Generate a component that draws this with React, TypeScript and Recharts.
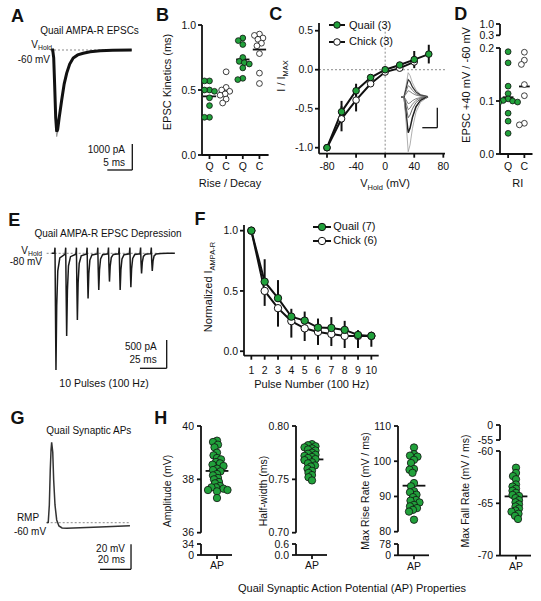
import React from 'react';
import {
  ComposedChart,
  LineChart,
  ScatterChart,
  Line,
  Scatter,
  XAxis,
  YAxis,
  ReferenceLine,
  ErrorBar,
} from 'recharts';

const GREEN = '#21a13b';
const INK = '#111111';
const DASH = '#8a8a8a';
const FONT = '"Liberation Sans", Arial, Helvetica, sans-serif';

// A: quail AMPA-R EPSC (time ms, current pA)
const A_T = [-0.3, 0, 0.2, 0.4, 0.6, 0.8, 1.0, 1.3, 1.8, 2.3, 2.8, 3.4, 4.1, 5.0, 6.1, 7.5, 9.5, 12, 15.8];
const A_MEAN = [0, 0, -300, -1400, -2600, -3140, -3050, -2600, -1920, -1300, -890, -540, -310, -190, -125, -70, -27, -8, 0];
const A_SWEEP = [0, 0, -350, -1600, -2900, -3330, -3150, -2650, -1950, -1320, -900, -545, -312, -190, -125, -70, -27, -8, 0];

// B: EPSC kinetics (ms)
const B_CATS = ['Q', 'C', 'Q', 'C'];
const B_RISE_QUAIL = [0.57, 0.57, 0.5, 0.5, 0.49, 0.48, 0.44, 0.38, 0.29, 0.29];
const B_RISE_CHICK = [0.64, 0.52, 0.5, 0.49, 0.47, 0.46, 0.43, 0.4];
const B_DECAY_QUAIL = [0.9, 0.88, 0.85, 0.75, 0.72, 0.71, 0.7, 0.67, 0.59, 0.58];
const B_DECAY_CHICK = [0.93, 0.92, 0.9, 0.89, 0.86, 0.84, 0.78, 0.63, 0.55];

// C: I-V relation
const C_VHOLD = [-80, -60, -40, -20, 0, 20, 40, 60];
const C_QUAIL = [-1.0, -0.54, -0.27, -0.1, 0.0, 0.06, 0.13, 0.2];
const C_QUAIL_ERR = [0, 0.14, 0.09, 0.03, 0.02, 0.02, 0.11, 0.12];
const C_CHICK = [-1.0, -0.63, -0.39, -0.18, -0.03, 0.02, 0.1];
const C_CHICK_ERR = [0, 0.16, 0.145, 0.03, 0.02, 0.02, 0.05];

// C inset: current family (ms, pA)
const INSET_T = [0, 1, 1.6, 2.4, 3, 3.8, 5, 6.5, 9];
const INSET_1 = [0, 0, 240, 600, 530, 350, 170, 60, 0];
const INSET_2 = [0, 0, 170, 425, 375, 245, 120, 40, 0];
const INSET_3 = [0, 0, 110, 275, 240, 160, 75, 25, 0];
const INSET_4 = [0, 0, 60, 150, 130, 85, 40, 15, 0];
const INSET_5 = [0, 0, -70, -175, -155, -100, -50, -20, 0];
const INSET_6 = [0, 0, -130, -325, -285, -190, -90, -35, 0];
const INSET_7 = [0, 0, -210, -525, -460, -305, -145, -55, 0];
const INSET_8 = [0, 0, -360, -900, -790, -520, -250, -90, 0];
const INSET_9 = [0, 0, -550, -1375, -1210, -800, -385, -140, 0];

// D: rectification index
const D_CATS = ['Q', 'C'];
const D_QUAIL = [0.193, 0.172, 0.128, 0.114, 0.104, 0.101, 0.1, 0.098, 0.097, 0.077, 0.062, 0.039];
const D_CHICK = [0.192, 0.177, 0.169, 0.131, 0.11, 0.058, 0.055];

// E: EPSC train at 100 Hz (ms, pA)
const E_T = [
  -3, -0.5, 0, 0.4, 0.9, 1.6, 2.6, 4.5,
  9.5, 10, 10.4, 10.9, 11.6, 12.6, 14.5,
  19.5, 20, 20.4, 20.9, 21.6, 22.6, 24.5,
  29.5, 30, 30.4, 30.9, 31.6, 32.6, 34.5,
  39.5, 40, 40.4, 40.9, 41.6, 42.6, 44.5,
  49.5, 50, 50.4, 50.9, 51.6, 52.6, 54.5,
  59.5, 60, 60.4, 60.9, 61.6, 62.6, 64.5,
  69.5, 70, 70.4, 70.9, 71.6, 72.6, 74.5,
  79.5, 80, 80.4, 80.9, 81.6, 82.6, 84.5,
  89.5, 90, 90.4, 90.9, 91.6, 92.6, 94.5,
  99, 105, 112,
];
const E_I = [
  0, 0, 100, -930, -2060, -930, -310, -80,
  -15, 100, -660, -1460, -660, -220, -60,
  -15, 100, -530, -1180, -530, -180, -45,
  -10, 100, -360, -800, -360, -120, -30,
  -10, 100, -290, -650, -290, -100, -25,
  -8, 100, -225, -500, -225, -75, -20,
  -8, 100, -290, -650, -290, -100, -25,
  -8, 100, -270, -600, -270, -90, -22,
  -8, 100, -160, -355, -160, -55, -15,
  -6, 100, -140, -310, -140, -45, -12,
  -5, 0, 0,
];

// F: normalized depression
const F_PULSE = [1, 2, 3, 4, 5, 6, 7, 8, 9, 10];
const F_QUAIL = [1.0, 0.577, 0.44, 0.287, 0.254, 0.196, 0.193, 0.177, 0.135, 0.127];
const F_QUAIL_ERR = [0, 0.186, 0.15, 0.065, 0.075, 0.075, 0.09, 0.075, 0.04, 0.035];
const F_CHICK = [1.0, 0.5, 0.357, 0.25, 0.19, 0.16, 0.143, 0.127, 0.127, 0.127];
const F_CHICK_ERR = [0, 0.124, 0.153, 0.137, 0.105, 0.108, 0.1, 0.1, 0.1, 0.09];

// G: synaptic AP (ms, mV)
const G_T = [0, 1.0, 1.7, 2.3, 2.8, 3.2, 3.9, 4.5, 5.35, 6.45, 7.9, 9.9, 12.9, 21.5, 34.4, 53.7];
const G_V = [-60, -59.7, -45.8, -17.8, -1.8, 4.3, -3.4, -25.8, -45.8, -57.8, -62.6, -64.2, -64.5, -64.0, -63.4, -62.4];

// H: AP properties
const H_AMPLITUDE = [39.45, 39.4, 39.3, 39.2, 39.0, 38.9, 38.8, 38.75, 38.65, 38.6, 38.55, 38.5, 38.4, 38.35, 38.3, 38.2, 38.15, 38.05, 38.0, 37.9, 37.85, 37.75, 37.7, 37.7, 37.65, 37.6, 37.6, 37.55, 37.3];
const H_HALFWIDTH = [0.783, 0.782, 0.781, 0.78, 0.779, 0.778, 0.777, 0.775, 0.774, 0.773, 0.772, 0.771, 0.77, 0.769, 0.768, 0.766, 0.765, 0.763, 0.762, 0.76, 0.758, 0.756, 0.754, 0.752, 0.749];
const H_RISE = [103.9, 102.0, 101.6, 101.3, 100.4, 99.5, 97.8, 97.6, 96.7, 93.8, 92.9, 91.5, 91.2, 90.5, 89.8, 89.0, 88.8, 88.3, 87.6, 87.2, 86.7, 86.2, 85.7, 83.4];
const H_FALL = [-61.6, -62.1, -62.4, -62.7, -63.2, -63.4, -63.6, -63.8, -64.0, -64.2, -64.3, -64.5, -64.7, -64.9, -65.1, -65.3, -65.5, -65.7, -65.8, -66.0, -66.2, -66.5];

type Box = { x0: number; x1: number; y0: number; y1: number };
const PAD = 8;
const MARGIN = { top: PAD, right: PAD, bottom: PAD, left: PAD };

function frame(b: Box, yw = 0, xh = 0) {
  return {
    pos: { position: 'absolute' as const, left: b.x0 - yw - PAD, top: b.y0 - PAD },
    width: b.x1 - b.x0 + yw + 2 * PAD,
    height: b.y1 - b.y0 + xh + 2 * PAD,
  };
}

const AX = {
  axisLine: { stroke: INK, strokeWidth: 1.8 },
  tickLine: { stroke: INK, strokeWidth: 1.8 },
  tick: { fill: INK, fontSize: 10.5 },
  tickSize: 4,
  interval: 0 as const,
  allowDataOverflow: true,
};

const mean = (a: number[]) => a.reduce((s, v) => s + v, 0) / a.length;

// simple beeswarm: spread overlapping points sideways (pixel space)
function swarm(vals: number[], cat: number, pxY: number, pxX: number, r: number, overlap = 0.85) {
  const d = 2 * r * overlap;
  const placed: { x: number; y: number }[] = [];
  const out = vals.map((v) => ({ x: cat, y: v }));
  const order = vals.map((_, i) => i).sort((a, b) => vals[b] - vals[a]);
  for (const i of order) {
    const y = vals[i] * pxY;
    for (let k = 0; k < 400; k++) {
      const x = (k % 2 === 0 ? 1 : -1) * Math.ceil(k / 2) * 0.5;
      if (placed.every((p) => (p.x - x) ** 2 + (p.y - y) ** 2 >= d * d)) {
        placed.push({ x, y });
        out[i] = { x: cat + x / pxX, y: vals[i] };
        break;
      }
    }
  }
  return out;
}

const dot = (fill: string, r: number) => (p: any) => (
  <circle cx={p.cx} cy={p.cy} r={r} fill={fill} stroke={INK} strokeWidth={0.8} />
);
const noDot = () => <g />;

function scaleBar(xEnd: number, yTop: number, xLen: number, yLen: number) {
  return [
    <ReferenceLine key="sv" segment={[{ x: xEnd, y: yTop }, { x: xEnd, y: yTop - yLen }]} stroke={INK} strokeWidth={1.3} />,
    <ReferenceLine key="sh" segment={[{ x: xEnd - xLen, y: yTop - yLen }, { x: xEnd, y: yTop - yLen }]} stroke={INK} strokeWidth={1.3} />,
  ];
}

function Txt({ x, y, size = 11, anchor = 'middle', bold = false, rotate = false, children }: any) {
  const tx = anchor === 'middle' ? '-50%' : anchor === 'end' ? '-100%' : '0';
  return (
    <div
      style={{
        position: 'absolute',
        left: x,
        top: y,
        transform: `translate(${tx}, -50%)${rotate ? ' rotate(-90deg)' : ''}`,
        fontSize: size,
        fontWeight: bold ? 700 : 400,
        lineHeight: 1,
        whiteSpace: 'nowrap',
      }}
    >
      {children}
    </div>
  );
}

const Sub = ({ children }: any) => (
  <span style={{ fontSize: '0.68em', position: 'relative', top: '0.35em' }}>{children}</span>
);

function LegendRow({ x, y, fill, r, w, gap, label }: any) {
  return (
    <div style={{ position: 'absolute', left: x - w / 2, top: y - 7, height: 14, display: 'flex', alignItems: 'center' }}>
      <svg width={w} height={14} style={{ display: 'block' }}>
        <line x1={0} y1={7} x2={w} y2={7} stroke={INK} strokeWidth={2} />
        <circle cx={w / 2} cy={7} r={r} fill={fill} stroke={INK} strokeWidth={1} />
      </svg>
      <span style={{ marginLeft: gap, fontSize: 11, lineHeight: 1 }}>{label}</span>
    </div>
  );
}

export default function App() {
  // A
  const aBox: Box = { x0: 40, x1: 140, y0: 35, y1: 180 };
  const aF = frame(aBox);
  const aRows = A_T.map((t, i) => ({ t, mean: A_MEAN[i], sweep: A_SWEEP[i] }));

  // B
  const bBox: Box = { x0: 201.7, x1: 268.3, y0: 25, y1: 155 };
  const bF = frame(bBox, 34, 22);
  const bGroups = [
    { vals: B_RISE_QUAIL, cat: 0, fill: GREEN },
    { vals: B_RISE_CHICK, cat: 1, fill: '#ffffff' },
    { vals: B_DECAY_QUAIL, cat: 2, fill: GREEN },
    { vals: B_DECAY_CHICK, cat: 3, fill: '#ffffff' },
  ];

  // C
  const cBox: Box = { x0: 319, x1: 445, y0: 23.3, y1: 154 };
  const cF = frame(cBox, 34, 22);
  const cRows = C_VHOLD.map((v, i) => ({
    v,
    q: C_QUAIL[i],
    qe: C_QUAIL_ERR[i],
    c: C_CHICK[i] ?? null,
    ce: C_CHICK_ERR[i] ?? 0,
  }));
  const insBox: Box = { x0: 393, x1: 443, y0: 66, y1: 158 };
  const insF = frame(insBox);
  const insTraces = [INSET_1, INSET_2, INSET_3, INSET_4, INSET_5, INSET_6, INSET_7, INSET_8, INSET_9];
  const insStroke = ['#9a9a9a', '#333', '#666', '#666', '#666', '#666', '#555', '#222', '#9a9a9a'];
  const insWidth = [0.8, 1.2, 0.8, 0.8, 0.8, 0.8, 0.9, 1.5, 0.8];
  const insRows = INSET_T.map((t, i) => {
    const row: Record<string, number> = { t };
    insTraces.forEach((tr, k) => (row['i' + k] = tr[i]));
    return row;
  });

  // D
  const dTopBox: Box = { x0: 499.5, x1: 532, y0: 24, y1: 35.3 };
  const dBox: Box = { x0: 499.5, x1: 532, y0: 48, y1: 154 };
  const dTopF = frame(dTopBox, 34, 0);
  const dF = frame(dBox, 34, 22);
  const dGroups = [
    { vals: D_QUAIL, cat: 0, fill: GREEN },
    { vals: D_CHICK, cat: 1, fill: '#ffffff' },
  ];
  const dPoints = dGroups.map((g) => swarm(g.vals, g.cat, 530, 16.25, 2.9));

  // E
  const eBox: Box = { x0: 40, x1: 180, y0: 240, y1: 375 };
  const eF = frame(eBox);
  const eRows = E_T.map((t, i) => ({ t, i: E_I[i] }));

  // F
  const fBox: Box = { x0: 244, x1: 378.7, y0: 225, y1: 355.7 };
  const fF = frame(fBox, 34, 24);
  const fRows = F_PULSE.map((p, i) => ({
    p,
    q: F_QUAIL[i],
    qe: [0, F_QUAIL_ERR[i]],
    c: F_CHICK[i],
    ce: [F_CHICK_ERR[i], 0],
  }));

  // G
  const gBox: Box = { x0: 40, x1: 140, y0: 425, y1: 580 };
  const gF = frame(gBox);
  const gRows = G_T.map((t, i) => ({ t, v: G_V[i] }));

  // H
  const H_PANELS = [
    { vals: H_AMPLITUDE, x0: 200.7, top: [426, 532.7, 36, 40], topTicks: [36, 38, 40], bot: [544.3, 555.3, 0, 34], botTicks: [0, 34], dTop: 0, dBot: 0, dataTop: true, title: 'Amplitude (mV)', tx: 166.7 },
    { vals: H_HALFWIDTH, x0: 295.7, top: [426, 532.7, 0.7, 0.8], topTicks: [0.7, 0.75, 0.8], bot: [544.3, 555.3, 0, 0.6], botTicks: [0, 0.6], dTop: 2, dBot: 1, dataTop: true, title: 'Half-width (ms)', tx: 263.3 },
    { vals: H_RISE, x0: 398.3, top: [426, 531.7, 80, 110], topTicks: [80, 90, 100, 110], bot: [544, 555.3, 0, 78], botTicks: [0, 78], dTop: 0, dBot: 0, dataTop: true, title: 'Max Rise Rate (mV / ms)', tx: 365 },
    { vals: H_FALL, x0: 500, top: [425, 440, -55, 0], topTicks: [-55, 0], bot: [450.7, 555.3, -70, -60], botTicks: [-70, -65, -60], dTop: 0, dBot: 0, dataTop: false, title: 'Max Fall Rate (mV / ms)', tx: 465 },
  ];
  const H_R = 3.7;
  const H_XDOM = [-0.8, 0.75];

  return (
    <div
      style={{
        position: 'fixed',
        left: 0,
        top: 0,
        width: 541,
        height: 601,
        background: '#ffffff',
        fontFamily: FONT,
        color: INK,
        overflow: 'hidden',
      }}
    >
      {/* A */}
      <div style={aF.pos}>
        <LineChart width={aF.width} height={aF.height} margin={MARGIN} data={aRows}>
          <XAxis type="number" dataKey="t" hide domain={[-2.54, 17.46]} />
          <YAxis type="number" hide domain={[-5000, 576.9]} />
          <ReferenceLine segment={[{ x: -0.54, y: 0 }, { x: 15.8, y: 0 }]} stroke={DASH} strokeDasharray="2 2" />
          <Line dataKey="sweep" stroke="#9a9a9a" strokeWidth={1} dot={false} isAnimationActive={false} />
          <Line dataKey="mean" stroke={INK} strokeWidth={3} dot={false} isAnimationActive={false} />
          {scaleBar(15.92, -3615, 5, 1000)}
        </LineChart>
      </div>

      {/* B */}
      <div style={bF.pos}>
        <ScatterChart width={bF.width} height={bF.height} margin={MARGIN}>
          <XAxis {...AX} type="number" dataKey="x" domain={[-0.45, 3.55]} ticks={[0, 1, 2, 3]} tickFormatter={(v: number) => B_CATS[v]} height={22} tickMargin={4} />
          <YAxis {...AX} type="number" dataKey="y" domain={[0, 1]} ticks={[0, 0.5, 1]} tickFormatter={(v: number) => v.toFixed(1)} width={34} tickMargin={2} />
          {bGroups.map((g, i) => (
            <Scatter key={'b' + i} data={swarm(g.vals, g.cat, 130, 16.65, 2.9)} shape={dot(g.fill, 2.9)} isAnimationActive={false} />
          ))}
          {bGroups.map((g, i) => (
            <ReferenceLine key={'bm' + i} segment={[{ x: g.cat - 0.4, y: mean(g.vals) }, { x: g.cat + 0.4, y: mean(g.vals) }]} stroke={INK} strokeWidth={1.8} />
          ))}
        </ScatterChart>
      </div>

      {/* C */}
      <div style={cF.pos}>
        <ComposedChart width={cF.width} height={cF.height} margin={MARGIN} data={cRows}>
          <XAxis {...AX} type="number" dataKey="v" domain={[-91, 82.3]} ticks={[-80, -40, 0, 40, 80]} height={22} tickMargin={5} />
          <YAxis {...AX} type="number" domain={[-1.077, 0.599]} ticks={[-1, -0.5, 0, 0.5]} tickFormatter={(v: number) => v.toFixed(1)} width={34} tickMargin={2} />
          <ReferenceLine x={0} stroke={DASH} strokeDasharray="2 2" />
          <ReferenceLine y={0} stroke={DASH} strokeDasharray="2 2" />
          <Line dataKey="c" stroke={INK} strokeWidth={2} dot={{ r: 3.3, fill: '#ffffff', stroke: INK, strokeWidth: 1 }} activeDot={false} isAnimationActive={false}>
            <ErrorBar dataKey="ce" direction="y" width={0} stroke={INK} strokeWidth={2} />
          </Line>
          <Line dataKey="q" stroke={INK} strokeWidth={2} dot={{ r: 3.3, fill: GREEN, stroke: INK, strokeWidth: 1 }} activeDot={false} isAnimationActive={false}>
            <ErrorBar dataKey="qe" direction="y" width={0} stroke={INK} strokeWidth={2} />
          </Line>
        </ComposedChart>
      </div>
      <div style={insF.pos}>
        <LineChart width={insF.width} height={insF.height} margin={MARGIN} data={insRows}>
          <XAxis type="number" dataKey="t" hide domain={[-2.667, 14]} />
          <YAxis type="number" hide domain={[-1532.5, 767.5]} />
          {insTraces.map((_, k) => (
            <Line key={'i' + k} dataKey={'i' + k} stroke={insStroke[k]} strokeWidth={insWidth[k]} dot={false} isAnimationActive={false} />
          ))}
          {scaleBar(12.1, -275, 5, 500)}
        </LineChart>
      </div>

      {/* D: upper axis segment (broken axis) */}
      <div style={dTopF.pos}>
        <ScatterChart width={dTopF.width} height={dTopF.height} margin={MARGIN}>
          <XAxis type="number" dataKey="x" hide domain={[-0.5, 1.5]} allowDataOverflow />
          <YAxis {...AX} type="number" dataKey="y" domain={[0.3, 1]} ticks={[0.3, 1]} tickFormatter={(v: number) => v.toFixed(1)} width={34} tickMargin={2} />
          <Scatter data={dPoints[0]} shape={noDot} isAnimationActive={false} />
        </ScatterChart>
      </div>
      <div style={dF.pos}>
        <ScatterChart width={dF.width} height={dF.height} margin={MARGIN}>
          <XAxis {...AX} type="number" dataKey="x" domain={[-0.5, 1.5]} ticks={[0, 1]} tickFormatter={(v: number) => D_CATS[v]} height={22} tickMargin={5} />
          <YAxis {...AX} type="number" dataKey="y" domain={[0, 0.2]} ticks={[0, 0.1, 0.2]} tickFormatter={(v: number) => v.toFixed(1)} width={34} tickMargin={2} />
          {dGroups.map((g, i) => (
            <Scatter key={'d' + i} data={dPoints[i]} shape={dot(g.fill, 2.9)} isAnimationActive={false} />
          ))}
          {dGroups.map((g, i) => (
            <ReferenceLine key={'dm' + i} segment={[{ x: g.cat - 0.33, y: mean(g.vals) }, { x: g.cat + 0.33, y: mean(g.vals) }]} stroke={INK} strokeWidth={1.8} />
          ))}
        </ScatterChart>
      </div>

      {/* E */}
      <div style={eF.pos}>
        <LineChart width={eF.width} height={eF.height} margin={MARGIN} data={eRows}>
          <XAxis type="number" dataKey="t" hide domain={[-14.02, 116.82]} />
          <YAxis type="number" hide domain={[-2150.4, 235]} />
          <ReferenceLine segment={[{ x: -7.8, y: 0 }, { x: 112, y: 0 }]} stroke={DASH} strokeDasharray="2 2" />
          <Line dataKey="i" stroke="#1a1a1a" strokeWidth={1.5} dot={false} isAnimationActive={false} />
          {scaleBar(104.39, -1532, 25, 500)}
        </LineChart>
      </div>

      {/* F */}
      <div style={fF.pos}>
        <ComposedChart width={fF.width} height={fF.height} margin={MARGIN} data={fRows}>
          <XAxis {...AX} type="number" dataKey="p" domain={[0.45, 10.55]} ticks={F_PULSE} height={24} tickMargin={7} />
          <YAxis {...AX} type="number" domain={[-0.037, 1.047]} ticks={[0, 0.5, 1]} tickFormatter={(v: number) => v.toFixed(1)} width={34} tickMargin={2} />
          <Line dataKey="c" stroke={INK} strokeWidth={2} dot={{ r: 3.7, fill: '#ffffff', stroke: INK, strokeWidth: 1 }} activeDot={false} isAnimationActive={false}>
            <ErrorBar dataKey="ce" direction="y" width={0} stroke={INK} strokeWidth={2} />
          </Line>
          <Line dataKey="q" stroke={INK} strokeWidth={2} dot={{ r: 3.7, fill: GREEN, stroke: INK, strokeWidth: 1 }} activeDot={false} isAnimationActive={false}>
            <ErrorBar dataKey="qe" direction="y" width={0} stroke={INK} strokeWidth={2} />
          </Line>
        </ComposedChart>
      </div>

      {/* G */}
      <div style={gF.pos}>
        <LineChart width={gF.width} height={gF.height} margin={MARGIN} data={gRows}>
          <XAxis type="number" dataKey="t" hide domain={[-4.32, 60.19]} />
          <YAxis type="number" hide domain={[-105.84, 18.16]} />
          <ReferenceLine segment={[{ x: 0, y: -60 }, { x: 53.7, y: -60 }]} stroke={DASH} strokeDasharray="2 2" />
          <Line dataKey="v" stroke="#333" strokeWidth={1.5} dot={false} isAnimationActive={false} />
          {scaleBar(54.4, -77.3, 20, 20)}
        </LineChart>
      </div>

      {/* H: each property has a broken y axis (two stacked segments) */}
      {H_PANELS.map((h, idx) => {
        const x1 = h.x0 + 31;
        const topBox: Box = { x0: h.x0, x1, y0: h.top[0], y1: h.top[1] };
        const botBox: Box = { x0: h.x0, x1, y0: h.bot[0], y1: h.bot[1] };
        const tF = frame(topBox, 34, 0);
        const bF2 = frame(botBox, 34, 22);
        const dataSeg = h.dataTop ? h.top : h.bot;
        const pxY = (dataSeg[1] - dataSeg[0]) / (dataSeg[3] - dataSeg[2]);
        const pts = swarm(h.vals, 0, pxY, 20, H_R, 0.55);
        const m = mean(h.vals);
        const series = [
          <Scatter key="pts" data={pts} shape={dot(GREEN, H_R)} isAnimationActive={false} />,
          <ReferenceLine key="mean" segment={[{ x: -0.57, y: m }, { x: 0.57, y: m }]} stroke={INK} strokeWidth={1.8} />,
        ];
        const ghost = <Scatter key="ghost" data={pts} shape={noDot} isAnimationActive={false} />;
        return (
          <React.Fragment key={'h' + idx}>
            <div style={tF.pos}>
              <ScatterChart width={tF.width} height={tF.height} margin={MARGIN}>
                <XAxis type="number" dataKey="x" hide domain={H_XDOM} allowDataOverflow />
                <YAxis {...AX} type="number" dataKey="y" domain={[h.top[2], h.top[3]]} ticks={h.topTicks} tickFormatter={(v: number) => v.toFixed(h.dTop)} width={34} tickMargin={3} />
                {h.dataTop ? series : ghost}
              </ScatterChart>
            </div>
            <div style={bF2.pos}>
              <ScatterChart width={bF2.width} height={bF2.height} margin={MARGIN}>
                <XAxis {...AX} type="number" dataKey="x" domain={H_XDOM} ticks={[0]} tickFormatter={() => 'AP'} height={22} tickMargin={3} />
                <YAxis {...AX} type="number" dataKey="y" domain={[h.bot[2], h.bot[3]]} ticks={h.botTicks} tickFormatter={(v: number) => v.toFixed(h.dBot)} width={34} tickMargin={3} />
                {h.dataTop ? ghost : series}
              </ScatterChart>
            </div>
            <Txt x={h.tx} y={491} size={10.5} rotate>{h.title}</Txt>
          </React.Fragment>
        );
      })}

      {/* panel letters */}
      <Txt x={17.5} y={16} size={18} bold>A</Txt>
      <Txt x={162.5} y={15} size={18} bold>B</Txt>
      <Txt x={275.8} y={14.2} size={18} bold>C</Txt>
      <Txt x={460.8} y={14.2} size={18} bold>D</Txt>
      <Txt x={14.2} y={219.5} size={18} bold>E</Txt>
      <Txt x={200} y={218.7} size={18} bold>F</Txt>
      <Txt x={17.5} y={417.5} size={18} bold>G</Txt>
      <Txt x={160.8} y={417.5} size={18} bold>H</Txt>

      {/* A texts */}
      <Txt x={89.5} y={31} size={10}>Quail AMPA-R EPSCs</Txt>
      <Txt x={52} y={45} size={10} anchor="end">V<Sub>Hold</Sub></Txt>
      <Txt x={50} y={60} size={10} anchor="end">-60 mV</Txt>
      <Txt x={125} y={150} size={10} anchor="end">1000 pA</Txt>
      <Txt x={125} y={162.7} size={10} anchor="end">5 ms</Txt>

      {/* B texts */}
      <Txt x={166.7} y={82} size={11} rotate>EPSC Kinetics (ms)</Txt>
      <Txt x={230} y={182.7} size={11}>Rise / Decay</Txt>

      {/* C texts */}
      <Txt x={280.5} y={76} size={11} rotate>I / I<Sub>MAX</Sub></Txt>
      <Txt x={385} y={183.3} size={11}>V<Sub>Hold</Sub> (mV)</Txt>
      <LegendRow x={336.7} y={25} w={16} gap={4.3} r={3.3} fill={GREEN} label="Quail (3)" />
      <LegendRow x={336.7} y={41.7} w={16} gap={4.3} r={3.3} fill="#ffffff" label="Chick (3)" />

      {/* D texts */}
      <Txt x={466} y={85} size={11} rotate>EPSC +40 mV / -60 mV</Txt>
      <Txt x={517.7} y={183.3} size={11}>RI</Txt>

      {/* E texts */}
      <Txt x={108} y={234} size={10}>Quail AMPA-R EPSC Depression</Txt>
      <Txt x={42} y={250.5} size={10} anchor="end">V<Sub>Hold</Sub></Txt>
      <Txt x={42} y={262.3} size={10} anchor="end">-80 mV</Txt>
      <Txt x={156.7} y={347.3} size={10} anchor="end">500 pA</Txt>
      <Txt x={156.7} y={360} size={10} anchor="end">25 ms</Txt>
      <Txt x={104} y={383.3} size={10.5}>10 Pulses (100 Hz)</Txt>

      {/* F texts */}
      <Txt x={208.3} y={286.7} size={11} rotate>Normalized I<Sub>AMPA-R</Sub></Txt>
      <Txt x={311.7} y={384} size={11}>Pulse Number (100 Hz)</Txt>
      <LegendRow x={321.7} y={226.7} w={18} gap={2.6} r={3.7} fill={GREEN} label="Quail (7)" />
      <LegendRow x={321.7} y={240.7} w={18} gap={2.6} r={3.7} fill="#ffffff" label="Chick (6)" />

      {/* G texts */}
      <Txt x={88.8} y={431} size={10}>Quail Synaptic APs</Txt>
      <Txt x={28} y={518.3} size={10}>RMP</Txt>
      <Txt x={30} y={531.7} size={10}>-60 mV</Txt>
      <Txt x={125} y={549} size={10} anchor="end">20 mV</Txt>
      <Txt x={125} y={560} size={10} anchor="end">20 ms</Txt>

      {/* H title */}
      <Txt x={352} y={588.3} size={11}>Quail Synaptic Action Potential (AP) Properties</Txt>
    </div>
  );
}
